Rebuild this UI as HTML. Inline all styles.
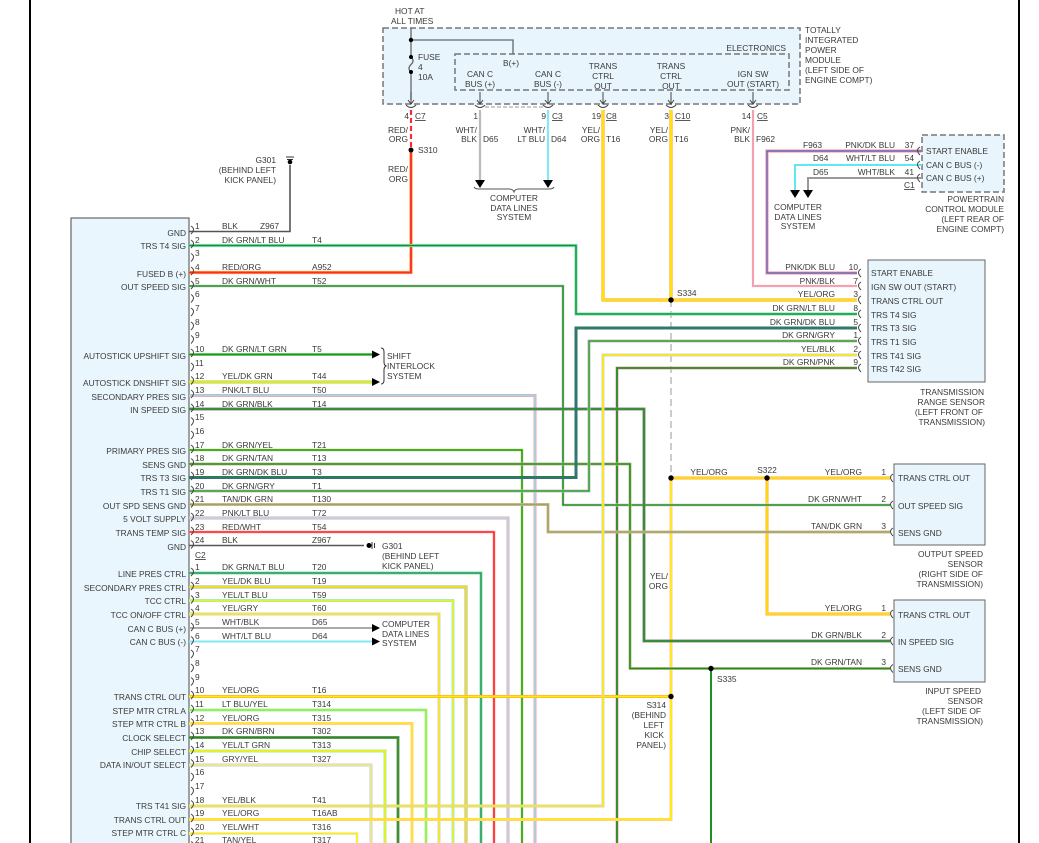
<!DOCTYPE html>
<html><head><meta charset="utf-8"><style>
html,body{margin:0;padding:0;background:#fff;}
svg{display:block;}
text{font-family:"Liberation Sans",sans-serif;font-size:8.4px;fill:#3a3a3a;}
.e{text-anchor:end;}
.m{text-anchor:middle;}
.u{text-decoration:underline;}
polyline,line,path.w{fill:none;}
</style></head><body>
<svg width="1039" height="843" viewBox="0 0 1039 843" xmlns="http://www.w3.org/2000/svg">
<line x1="30" y1="0" x2="30" y2="843" stroke="#000" stroke-width="2"/>
<line x1="1019" y1="0" x2="1019" y2="843" stroke="#000" stroke-width="2"/>

<!-- TIPM -->
<rect x="383" y="28" width="417" height="76" fill="#e8f5fc" stroke="#777" stroke-width="1.5" stroke-dasharray="6,3"/>
<rect x="455" y="54" width="334" height="36" fill="none" stroke="#777" stroke-width="1.5" stroke-dasharray="6,3"/>
<text x="395" y="14">HOT AT</text><text x="391" y="24">ALL TIMES</text>
<line x1="411" y1="28" x2="411" y2="57" stroke="#666" stroke-width="1.3"/>
<path d="M411 57 q4 4 0 7.5 q-4 4 0 7.5" stroke="#666" stroke-width="1.3" fill="none"/>
<line x1="411" y1="72" x2="411" y2="100" stroke="#666" stroke-width="1.3"/>
<polyline points="411,40 513,40 513,54" stroke="#666" stroke-width="1.3"/>
<circle cx="411" cy="40" r="2.2" fill="#000"/><circle cx="411" cy="57" r="2" fill="#000"/><circle cx="411" cy="72" r="2" fill="#000"/>
<text x="418" y="60">FUSE</text><text x="418" y="70">4</text><text x="418" y="80">10A</text>
<text x="503" y="66">B(+)</text>
<text x="786" y="51" class="e">ELECTRONICS</text>
<text x="480" y="77" class="m">CAN C</text><text x="480" y="87" class="m">BUS (+)</text>
<text x="548" y="77" class="m">CAN C</text><text x="548" y="87" class="m">BUS (-)</text>
<text x="603" y="69" class="m">TRANS</text><text x="603" y="79" class="m">CTRL</text><text x="603" y="89" class="m">OUT</text>
<text x="671" y="69" class="m">TRANS</text><text x="671" y="79" class="m">CTRL</text><text x="671" y="89" class="m">OUT</text>
<text x="753" y="77" class="m">IGN SW</text><text x="753" y="87" class="m">OUT (START)</text>
<text x="805" y="33">TOTALLY</text><text x="805" y="43">INTEGRATED</text><text x="805" y="53">POWER</text><text x="805" y="63">MODULE</text><text x="805" y="73">(LEFT SIDE OF</text><text x="805" y="83">ENGINE COMPT)</text>
<g stroke="#444" stroke-width="1" fill="none">
<path d="M411 92v12M408 100l3 4 3-4M480 92v12M477 100l3 4 3-4M548 92v12M545 100l3 4 3-4M603 92v12M600 100l3 4 3-4M671 92v12M668 100l3 4 3-4M753 92v12M750 100l3 4 3-4"/>
<path d="M406 105q5 5 10 0M475 105q5 5 10 0M543 105q5 5 10 0M598 105q5 5 10 0M666 105q5 5 10 0M748 105q5 5 10 0"/>
</g>
<line x1="485" y1="107" x2="543" y2="107" stroke="#999" stroke-dasharray="4,2"/>
<text x="409" y="119" class="e">4</text><text x="415" y="119" class="u">C7</text>
<text x="478" y="119" class="e">1</text>
<text x="546" y="119" class="e">9</text><text x="552" y="119" class="u">C3</text>
<text x="601" y="119" class="e">19</text><text x="606" y="119" class="u">C8</text>
<text x="669" y="119" class="e">3</text><text x="675" y="119" class="u">C10</text>
<text x="751" y="119" class="e">14</text><text x="757" y="119" class="u">C5</text>
<text x="408" y="133" class="e">RED/</text><text x="408" y="142" class="e">ORG</text>
<text x="418" y="153">S310</text>
<text x="408" y="172" class="e">RED/</text><text x="408" y="182" class="e">ORG</text>
<text x="477" y="133" class="e">WHT/</text><text x="477" y="142" class="e">BLK</text><text x="483" y="142">D65</text>
<text x="545" y="133" class="e">WHT/</text><text x="545" y="142" class="e">LT BLU</text><text x="551" y="142">D64</text>
<text x="600" y="133" class="e">YEL/</text><text x="600" y="142" class="e">ORG</text><text x="606" y="142">T16</text>
<text x="668" y="133" class="e">YEL/</text><text x="668" y="142" class="e">ORG</text><text x="674" y="142">T16</text>
<text x="750" y="133" class="e">PNK/</text><text x="750" y="142" class="e">BLK</text><text x="756" y="142">F962</text>
<text x="514" y="201" class="m">COMPUTER</text><text x="514" y="211" class="m">DATA LINES</text><text x="514" y="220" class="m">SYSTEM</text>
<path d="M474 187q1 2 5 2h30q4 0 5 3q1-3 5-3h30q4 0 5-2" stroke="#555" fill="none"/>

<!-- G301 top -->
<text x="276" y="163" class="e">G301</text><text x="276" y="173" class="e">(BEHIND LEFT</text><text x="276" y="183" class="e">KICK PANEL)</text>
<path d="M286 157h8M287 159.5h6" stroke="#333" stroke-width="1"/><circle cx="290" cy="162" r="2.3" fill="#000"/>

<!-- PCM -->
<rect x="922" y="135" width="82" height="57" fill="#e8f5fc" stroke="#777" stroke-width="1.5" stroke-dasharray="6,3"/>
<text x="926" y="154">START ENABLE</text><text x="926" y="168">CAN C BUS (-)</text><text x="926" y="181">CAN C BUS (+)</text>
<text x="914" y="148" class="e">37</text><text x="914" y="161" class="e">54</text><text x="914" y="175" class="e">41</text><text x="904" y="188" class="u">C1</text>
<text x="895" y="148" class="e">PNK/DK BLU</text><text x="895" y="161" class="e">WHT/LT BLU</text><text x="895" y="175" class="e">WHT/BLK</text>
<text x="803" y="148">F963</text><text x="813" y="161">D64</text><text x="813" y="175">D65</text>
<text x="1004" y="202" class="e">POWERTRAIN</text><text x="1004" y="212" class="e">CONTROL MODULE</text><text x="1004" y="222" class="e">(LEFT REAR OF</text><text x="1004" y="232" class="e">ENGINE COMPT)</text>
<text x="798" y="210" class="m">COMPUTER</text><text x="798" y="220" class="m">DATA LINES</text><text x="798" y="229" class="m">SYSTEM</text>

<!-- TRS -->
<rect x="868" y="260" width="117" height="122" fill="#e8f5fc" stroke="#666"/>
<text x="871" y="276">START ENABLE</text><text x="871" y="290">IGN SW OUT (START)</text><text x="871" y="304">TRANS CTRL OUT</text><text x="871" y="318">TRS T4 SIG</text><text x="871" y="331">TRS T3 SIG</text><text x="871" y="345">TRS T1 SIG</text><text x="871" y="359">TRS T41 SIG</text><text x="871" y="372">TRS T42 SIG</text>
<text x="858" y="270" class="e">10</text><text x="858" y="284" class="e">7</text><text x="858" y="297" class="e">3</text><text x="858" y="311" class="e">8</text><text x="858" y="325" class="e">5</text><text x="858" y="338" class="e">1</text><text x="858" y="352" class="e">2</text><text x="858" y="365" class="e">9</text>
<text x="835" y="270" class="e">PNK/DK BLU</text><text x="835" y="284" class="e">PNK/BLK</text><text x="835" y="297" class="e">YEL/ORG</text><text x="835" y="311" class="e">DK GRN/LT BLU</text><text x="835" y="325" class="e">DK GRN/DK BLU</text><text x="835" y="338" class="e">DK GRN/GRY</text><text x="835" y="352" class="e">YEL/BLK</text><text x="835" y="365" class="e">DK GRN/PNK</text>
<text x="984" y="395" class="e">TRANSMISSION</text><text x="985" y="405" class="e">RANGE SENSOR</text><text x="983" y="415" class="e">(LEFT FRONT OF</text><text x="985" y="425" class="e">TRANSMISSION)</text>
<text x="677" y="296">S334</text>

<!-- OSS -->
<rect x="894" y="464" width="91" height="81" fill="#e8f5fc" stroke="#666"/>
<text x="898" y="481">TRANS CTRL OUT</text><text x="898" y="509">OUT SPEED SIG</text><text x="898" y="536">SENS GND</text>
<text x="886" y="475" class="e">1</text><text x="886" y="502" class="e">2</text><text x="886" y="529" class="e">3</text>
<text x="862" y="475" class="e">YEL/ORG</text><text x="862" y="502" class="e">DK GRN/WHT</text><text x="862" y="529" class="e">TAN/DK GRN</text>
<text x="709" y="475" class="m">YEL/ORG</text><text x="767" y="473" class="m">S322</text>
<text x="983" y="557" class="e">OUTPUT SPEED</text><text x="983" y="567" class="e">SENSOR</text><text x="983" y="577" class="e">(RIGHT SIDE OF</text><text x="983" y="587" class="e">TRANSMISSION)</text>
<text x="668" y="579" class="e">YEL/</text><text x="668" y="589" class="e">ORG</text>

<!-- ISS -->
<rect x="894" y="600" width="91" height="82" fill="#e8f5fc" stroke="#666"/>
<text x="898" y="618">TRANS CTRL OUT</text><text x="898" y="645">IN SPEED SIG</text><text x="898" y="672">SENS GND</text>
<text x="886" y="611" class="e">1</text><text x="886" y="638" class="e">2</text><text x="886" y="665" class="e">3</text>
<text x="862" y="611" class="e">YEL/ORG</text><text x="862" y="638" class="e">DK GRN/BLK</text><text x="862" y="665" class="e">DK GRN/TAN</text>
<text x="717" y="682">S335</text>
<text x="666" y="708" class="e">S314</text><text x="666" y="718" class="e">(BEHIND</text><text x="664" y="728" class="e">LEFT</text><text x="664" y="738" class="e">KICK</text><text x="666" y="748" class="e">PANEL)</text>
<text x="981" y="694" class="e">INPUT SPEED</text><text x="983" y="704" class="e">SENSOR</text><text x="981" y="714" class="e">(LEFT SIDE OF</text><text x="983" y="724" class="e">TRANSMISSION)</text>

<!-- module -->
<rect x="71" y="218" width="118" height="640" fill="#eaf6fd" stroke="#666" stroke-width="1.2"/>

<!-- WIRES: tracer (wide) then main -->
<g stroke-linejoin="miter" fill="none">
<!-- top -->
<polyline points="290,165 290,231.5 189,231.5" stroke="#555" stroke-width="1.6"/>
<polyline points="411,150 411,272.5 189,272.5" stroke="#ffa040" stroke-width="3.2"/><polyline points="411,150 411,272.5 189,272.5" stroke="#ff2a2a" stroke-width="1.8"/>
<line x1="411" y1="110" x2="411" y2="150" stroke="#ff2a2a" stroke-width="2.2" stroke-dasharray="5,3"/>
<line x1="480" y1="110" x2="480" y2="180" stroke="#bbb" stroke-width="2.2"/>
<line x1="548" y1="110" x2="548" y2="180" stroke="#80eaf0" stroke-width="2.2"/>
<polyline points="603,110 603,300 857,300" stroke="#ffb030" stroke-width="3.2"/><polyline points="603,110 603,300 857,300" stroke="#ffee00" stroke-width="1.6"/>
<polyline points="671,110 671,300" stroke="#ffb030" stroke-width="3.2"/><polyline points="671,110 671,300" stroke="#ffee00" stroke-width="1.6"/>
<polyline points="753,110 753,286 857,286" stroke="#f4a0b0" stroke-width="2.2"/>
<polyline points="922,151 767,151 767,273 857,273" stroke="#f4a0b0" stroke-width="3.2"/><polyline points="922,151 767,151 767,273 857,273" stroke="#5060b0" stroke-width="1.2"/>
<polyline points="922,165 795,165 795,190" stroke="#60e8f0" stroke-width="2"/>
<polyline points="922,178 808,178 808,190" stroke="#999" stroke-width="2"/>
<line x1="671" y1="300" x2="671" y2="478" stroke="#999" stroke-width="1" stroke-dasharray="7,4"/>
<polyline points="671,478 671,696.5" stroke="#ffd0b0" stroke-width="3.2"/><polyline points="671,478 671,696.5" stroke="#ffee00" stroke-width="1.6"/>
<polyline points="671,478 890,478" stroke="#ffb030" stroke-width="3"/><polyline points="671,478 890,478" stroke="#ffee00" stroke-width="1.2"/>
<polyline points="767,478 767,614 890,614" stroke="#ffb030" stroke-width="3"/><polyline points="767,478 767,614 890,614" stroke="#ffee00" stroke-width="1.2"/>
<line x1="711" y1="668.5" x2="711" y2="843" stroke="#1f8f1f" stroke-width="2"/>
<polyline points="857,368 617,368 617,843" stroke="#f4a0b0" stroke-width="3"/><polyline points="857,368 617,368 617,843" stroke="#1f8f1f" stroke-width="1.8"/>

<!-- C1 -->
<polyline points="189,245.5 576,245.5 576,314 857,314" stroke="#80e8d0" stroke-width="3.2"/><polyline points="189,245.5 576,245.5 576,314 857,314" stroke="#1f8f1f" stroke-width="1.5"/>
<polyline points="189,286 563,286 563,505 890,505" stroke="#d8d8d8" stroke-width="3"/><polyline points="189,286 563,286 563,505 890,505" stroke="#1f8f1f" stroke-width="1.6"/>
<polyline points="189,354.5 372,354.5" stroke="#7fdc7f" stroke-width="3"/><polyline points="189,354.5 372,354.5" stroke="#1f8f1f" stroke-width="1.4"/>
<polyline points="189,382 372,382" stroke="#9ccf60" stroke-width="3"/><polyline points="189,382 372,382" stroke="#ffee00" stroke-width="1.6"/>
<polyline points="189,395.5 535,395.5 535,843" stroke="#f4a0b0" stroke-width="3"/><polyline points="189,395.5 535,395.5 535,843" stroke="#90e0f0" stroke-width="1.4"/>
<polyline points="189,409 644,409 644,641 890,641" stroke="#888" stroke-width="3"/><polyline points="189,409 644,409 644,641 890,641" stroke="#1f8f1f" stroke-width="1.6"/>
<polyline points="189,450 522,450 522,843" stroke="#ccf090" stroke-width="3"/><polyline points="189,450 522,450 522,843" stroke="#1f8f1f" stroke-width="1.5"/>
<polyline points="189,464 630,464 630,668.5 890,668.5" stroke="#c8c090" stroke-width="3"/><polyline points="189,464 630,464 630,668.5 890,668.5" stroke="#1f8f1f" stroke-width="1.6"/>
<polyline points="189,477.5 576,477.5 576,328 857,328" stroke="#4060b0" stroke-width="3"/><polyline points="189,477.5 576,477.5 576,328 857,328" stroke="#1f8f1f" stroke-width="1.4"/>
<polyline points="189,491 589,491 589,341 857,341" stroke="#b8c8b8" stroke-width="3"/><polyline points="189,491 589,491 589,341 857,341" stroke="#3a9a3a" stroke-width="1.5"/>
<polyline points="189,504.5 548,504.5 548,532 890,532" stroke="#c8c098" stroke-width="3"/><polyline points="189,504.5 548,504.5 548,532 890,532" stroke="#a8a060" stroke-width="1.6"/>
<polyline points="189,518 508,518 508,843" stroke="#f4a0b0" stroke-width="3"/><polyline points="189,518 508,518 508,843" stroke="#a0e8f4" stroke-width="1.4"/>
<polyline points="189,532 494,532 494,843" stroke="#ffc0c0" stroke-width="3"/><polyline points="189,532 494,532 494,843" stroke="#ff2020" stroke-width="1.6"/>
<polyline points="189,545.5 364,545.5" stroke="#555" stroke-width="1.6"/>

<!-- C2 -->
<polyline points="189,573 481,573 481,843" stroke="#80e0c0" stroke-width="3"/><polyline points="189,573 481,573 481,843" stroke="#2a9a4a" stroke-width="1.5"/>
<polyline points="189,587 466,587 466,843" stroke="#b0b0a0" stroke-width="3"/><polyline points="189,587 466,587 466,843" stroke="#ffee00" stroke-width="1.4"/>
<polyline points="189,600.5 453,600.5 453,843" stroke="#90f0e0" stroke-width="3"/><polyline points="189,600.5 453,600.5 453,843" stroke="#ffee00" stroke-width="1.4"/>
<polyline points="189,614 439,614 439,843" stroke="#d0d0d0" stroke-width="3"/><polyline points="189,614 439,614 439,843" stroke="#ffee00" stroke-width="1.4"/>
<polyline points="189,628 372,628" stroke="#aaa" stroke-width="2"/>
<polyline points="189,641.5 372,641.5" stroke="#80eaf0" stroke-width="2"/>
<polyline points="189,696.5 671,696.5" stroke="#ffb030" stroke-width="3"/><polyline points="189,696.5 671,696.5" stroke="#ffee00" stroke-width="1.6"/>
<polyline points="189,710 426,710 426,843" stroke="#ffee00" stroke-width="3"/><polyline points="189,710 426,710 426,843" stroke="#40f0f0" stroke-width="1.4"/>
<polyline points="189,723.5 412,723.5 412,843" stroke="#ffc8b0" stroke-width="3"/><polyline points="189,723.5 412,723.5 412,843" stroke="#ffee00" stroke-width="1.6"/>
<polyline points="189,737.5 398,737.5 398,843" stroke="#70a060" stroke-width="3"/><polyline points="189,737.5 398,737.5 398,843" stroke="#2a8a2a" stroke-width="1.5"/>
<polyline points="189,751 385,751 385,843" stroke="#a0f0a0" stroke-width="3"/><polyline points="189,751 385,751 385,843" stroke="#ffee00" stroke-width="1.4"/>
<polyline points="189,765 371,765 371,843" stroke="#ccc" stroke-width="3"/><polyline points="189,765 371,765 371,843" stroke="#f0f080" stroke-width="1.4"/>
<polyline points="189,806 603,806 603,355 857,355" stroke="#d0d0d0" stroke-width="3"/><polyline points="189,806 603,806 603,355 857,355" stroke="#ffee00" stroke-width="1.6"/>
<polyline points="189,819.5 671,819.5 671,696.5" stroke="#ffc8b0" stroke-width="3"/><polyline points="189,819.5 671,819.5 671,696.5" stroke="#ffee00" stroke-width="1.8"/>
<polyline points="189,833.5 357,833.5 357,843" stroke="#eee" stroke-width="3"/><polyline points="189,833.5 357,833.5 357,843" stroke="#ffee00" stroke-width="1.6"/>
<polyline points="189,847 345,847" stroke="#ffee00" stroke-width="1.6"/>
</g>

<!-- dots -->
<g fill="#000">
<circle cx="411" cy="150" r="2.5"/><circle cx="671" cy="300" r="2.7"/><circle cx="671" cy="478" r="2.7"/><circle cx="767" cy="478" r="2.7"/><circle cx="711" cy="668.5" r="2.7"/><circle cx="671" cy="696.5" r="2.7"/>
<!-- arrows -->
<path d="M475 180h10l-5 8zM543 180h10l-5 8zM790 190h10l-5 8zM803 190h10l-5 8z"/>
<path d="M372 350.5v8l8-4zM372 378v8l8-4zM372 624v8l8-4zM372 637.5v8l8-4z"/>
</g>
<path d="M381 348q3 0 3 4v10q0 3 2 4q-2 1-2 4v10q0 4-3 4" stroke="#333" fill="none"/>
<text x="387" y="359">SHIFT</text><text x="387" y="369">INTERLOCK</text><text x="387" y="379">SYSTEM</text>
<text x="382" y="627">COMPUTER</text><text x="382" y="637">DATA LINES</text><text x="382" y="646">SYSTEM</text>
<!-- G301 lower -->
<circle cx="369" cy="545.5" r="2.5" fill="#000"/><path d="M372 542v7M374.5 543v5" stroke="#333"/>
<text x="382" y="549">G301</text><text x="382" y="559">(BEHIND LEFT</text><text x="382" y="569">KICK PANEL)</text>

<!-- connector brackets -->
<path d="M191 226q5 3 0 8M191 240q5 3 0 8M191 253.5q5 3 0 8M191 267q5 3 0 8M191 281q5 3 0 8M191 294.5q5 3 0 8M191 308q5 3 0 8M191 322q5 3 0 8M191 335.5q5 3 0 8M191 349q5 3 0 8M191 363q5 3 0 8M191 376.5q5 3 0 8M191 390q5 3 0 8M191 404q5 3 0 8M191 417.5q5 3 0 8M191 431q5 3 0 8M191 445q5 3 0 8M191 458.5q5 3 0 8M191 472q5 3 0 8M191 486q5 3 0 8M191 499.5q5 3 0 8M191 513q5 3 0 8M191 527q5 3 0 8M191 540.5q5 3 0 8M191 568q5 3 0 8M191 582q5 3 0 8M191 595.5q5 3 0 8M191 609q5 3 0 8M191 623q5 3 0 8M191 636.5q5 3 0 8M191 650q5 3 0 8M191 664q5 3 0 8M191 677.5q5 3 0 8M191 691q5 3 0 8M191 705q5 3 0 8M191 718.5q5 3 0 8M191 732q5 3 0 8M191 746q5 3 0 8M191 759.5q5 3 0 8M191 773q5 3 0 8M191 787q5 3 0 8M191 800.5q5 3 0 8M191 814q5 3 0 8M191 828q5 3 0 8M191 841.5q5 3 0 8" stroke="#444" fill="none"/>
<path d="M861 269q-5 3 0 8M861 282q-5 3 0 8M861 296q-5 3 0 8M861 310q-5 3 0 8M861 324q-5 3 0 8M861 337q-5 3 0 8M861 351q-5 3 0 8M861 364q-5 3 0 8M893 474q-5 3 0 8M893 501q-5 3 0 8M893 528q-5 3 0 8M893 610q-5 3 0 8M893 637q-5 3 0 8M893 664.5q-5 3 0 8M920 147q-5 3 0 8M920 161q-5 3 0 8M920 174q-5 3 0 8" stroke="#444" fill="none"/>

<!-- C1 pin text -->
<text x="195" y="229">1</text><text x="222" y="229">BLK</text><text x="260" y="229">Z967</text>
<text x="195" y="243">2</text><text x="222" y="243">DK GRN/LT BLU</text><text x="312" y="243">T4</text>
<text x="195" y="256">3</text>
<text x="195" y="270">4</text><text x="222" y="270">RED/ORG</text><text x="312" y="270">A952</text>
<text x="195" y="284">5</text><text x="222" y="284">DK GRN/WHT</text><text x="312" y="284">T52</text>
<text x="195" y="297">6</text><text x="195" y="311">7</text><text x="195" y="325">8</text><text x="195" y="338">9</text>
<text x="195" y="352">10</text><text x="222" y="352">DK GRN/LT GRN</text><text x="312" y="352">T5</text>
<text x="195" y="366">11</text>
<text x="195" y="379">12</text><text x="222" y="379">YEL/DK GRN</text><text x="312" y="379">T44</text>
<text x="195" y="393">13</text><text x="222" y="393">PNK/LT BLU</text><text x="312" y="393">T50</text>
<text x="195" y="407">14</text><text x="222" y="407">DK GRN/BLK</text><text x="312" y="407">T14</text>
<text x="195" y="420">15</text><text x="195" y="434">16</text>
<text x="195" y="448">17</text><text x="222" y="448">DK GRN/YEL</text><text x="312" y="448">T21</text>
<text x="195" y="461">18</text><text x="222" y="461">DK GRN/TAN</text><text x="312" y="461">T13</text>
<text x="195" y="475">19</text><text x="222" y="475">DK GRN/DK BLU</text><text x="312" y="475">T3</text>
<text x="195" y="489">20</text><text x="222" y="489">DK GRN/GRY</text><text x="312" y="489">T1</text>
<text x="195" y="502">21</text><text x="222" y="502">TAN/DK GRN</text><text x="312" y="502">T130</text>
<text x="195" y="516">22</text><text x="222" y="516">PNK/LT BLU</text><text x="312" y="516">T72</text>
<text x="195" y="530">23</text><text x="222" y="530">RED/WHT</text><text x="312" y="530">T54</text>
<text x="195" y="543">24</text><text x="222" y="543">BLK</text><text x="312" y="543">Z967</text>
<text x="195" y="558" class="u">C2</text>
<text x="195" y="570">1</text><text x="222" y="570">DK GRN/LT BLU</text><text x="312" y="570">T20</text>
<text x="195" y="584">2</text><text x="222" y="584">YEL/DK BLU</text><text x="312" y="584">T19</text>
<text x="195" y="598">3</text><text x="222" y="598">YEL/LT BLU</text><text x="312" y="598">T59</text>
<text x="195" y="611">4</text><text x="222" y="611">YEL/GRY</text><text x="312" y="611">T60</text>
<text x="195" y="625">5</text><text x="222" y="625">WHT/BLK</text><text x="312" y="625">D65</text>
<text x="195" y="639">6</text><text x="222" y="639">WHT/LT BLU</text><text x="312" y="639">D64</text>
<text x="195" y="652">7</text><text x="195" y="666">8</text><text x="195" y="680">9</text>
<text x="195" y="693">10</text><text x="222" y="693">YEL/ORG</text><text x="312" y="693">T16</text>
<text x="195" y="707">11</text><text x="222" y="707">LT BLU/YEL</text><text x="312" y="707">T314</text>
<text x="195" y="721">12</text><text x="222" y="721">YEL/ORG</text><text x="312" y="721">T315</text>
<text x="195" y="734">13</text><text x="222" y="734">DK GRN/BRN</text><text x="312" y="734">T302</text>
<text x="195" y="748">14</text><text x="222" y="748">YEL/LT GRN</text><text x="312" y="748">T313</text>
<text x="195" y="762">15</text><text x="222" y="762">GRY/YEL</text><text x="312" y="762">T327</text>
<text x="195" y="775">16</text><text x="195" y="789">17</text>
<text x="195" y="803">18</text><text x="222" y="803">YEL/BLK</text><text x="312" y="803">T41</text>
<text x="195" y="816">19</text><text x="222" y="816">YEL/ORG</text><text x="312" y="816">T16AB</text>
<text x="195" y="830">20</text><text x="222" y="830">YEL/WHT</text><text x="312" y="830">T316</text>
<text x="195" y="843">21</text><text x="222" y="843">TAN/YEL</text><text x="312" y="843">T317</text>

<!-- module labels -->
<g class="e">
<text x="186" y="236" class="e">GND</text>
<text x="186" y="249" class="e">TRS T4 SIG</text>
<text x="186" y="277" class="e">FUSED B (+)</text>
<text x="186" y="290" class="e">OUT SPEED SIG</text>
<text x="186" y="359" class="e">AUTOSTICK UPSHIFT SIG</text>
<text x="186" y="386" class="e">AUTOSTICK DNSHIFT SIG</text>
<text x="186" y="400" class="e">SECONDARY PRES SIG</text>
<text x="186" y="413" class="e">IN SPEED SIG</text>
<text x="186" y="454" class="e">PRIMARY PRES SIG</text>
<text x="186" y="468" class="e">SENS GND</text>
<text x="186" y="481" class="e">TRS T3 SIG</text>
<text x="186" y="495" class="e">TRS T1 SIG</text>
<text x="186" y="509" class="e">OUT SPD SENS GND</text>
<text x="186" y="522" class="e">5 VOLT SUPPLY</text>
<text x="186" y="536" class="e">TRANS TEMP SIG</text>
<text x="186" y="550" class="e">GND</text>
<text x="186" y="577" class="e">LINE PRES CTRL</text>
<text x="186" y="591" class="e">SECONDARY PRES CTRL</text>
<text x="186" y="604" class="e">TCC CTRL</text>
<text x="186" y="618" class="e">TCC ON/OFF CTRL</text>
<text x="186" y="632" class="e">CAN C BUS (+)</text>
<text x="186" y="645" class="e">CAN C BUS (-)</text>
<text x="186" y="700" class="e">TRANS CTRL OUT</text>
<text x="186" y="714" class="e">STEP MTR CTRL A</text>
<text x="186" y="727" class="e">STEP MTR CTRL B</text>
<text x="186" y="741" class="e">CLOCK SELECT</text>
<text x="186" y="755" class="e">CHIP SELECT</text>
<text x="186" y="768" class="e">DATA IN/OUT SELECT</text>
<text x="186" y="809" class="e">TRS T41 SIG</text>
<text x="186" y="823" class="e">TRANS CTRL OUT</text>
<text x="186" y="836" class="e">STEP MTR CTRL C</text>
</g>
</svg>
</body></html>
